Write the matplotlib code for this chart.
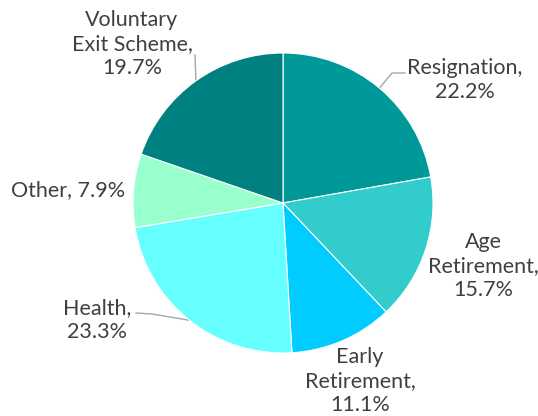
import numpy as np
import matplotlib
matplotlib.use("Agg")
import matplotlib.pyplot as plt

categories = ["Resignation", "Age\nRetirement", "Early\nRetirement", "Health", "Other", "Voluntary\nExit Scheme"]
values = [22.2, 15.7, 11.1, 23.3, 7.9, 19.7]
colors = ["#009999", "#33CCCC", "#00CCFF", "#66FFFF", "#99FFCC", "#008080"]

W, H = 538, 416
cx, cy, R = 283, 203, 150

fig = plt.figure(figsize=(W / 100, H / 100), dpi=100)
ax = fig.add_axes([0, 0, 1, 1])

wedges, _ = ax.pie(values, colors=colors, startangle=90, counterclock=False,
                   radius=R, center=(cx, H - cy), frame=True,
                   wedgeprops=dict(edgecolor="white", linewidth=0.8))
ax.set_xlim(0, W)
ax.set_ylim(0, H)
ax.axis("off")

label_pos = [(465, 80), (483, 266), (360, 381), (97, 320), (68, 190), (132, 44)]
label_text = [c + (", " if c == "Other" else ",\n") + "{:.1f}%" for c in categories]
leader_mid = {0: [(405, 73), (392, 73)], 3: [(136, 313), (152, 314)], 5: [(195, 55)]}

tc = "#404040"
for i, (w, v) in enumerate(zip(wedges, values)):
    tx, ty = label_pos[i]
    ax.text(tx, H - ty, label_text[i].format(v), ha="center", va="center",
            fontsize=15.5, color=tc, family="Lato", linespacing=1.22)
    if i in leader_mid:
        ang = np.deg2rad((w.theta1 + w.theta2) / 2)
        ex, ey = cx + R * np.cos(ang), (H - cy) + R * np.sin(ang)
        pts = [(x, H - y) for x, y in leader_mid[i]] + [(ex, ey)]
        xs, ys = zip(*pts)
        ax.plot(xs, ys, color="#A6A6A6", lw=1.0, zorder=0.5)

fig.savefig("out.png", dpi=100, facecolor="white")
